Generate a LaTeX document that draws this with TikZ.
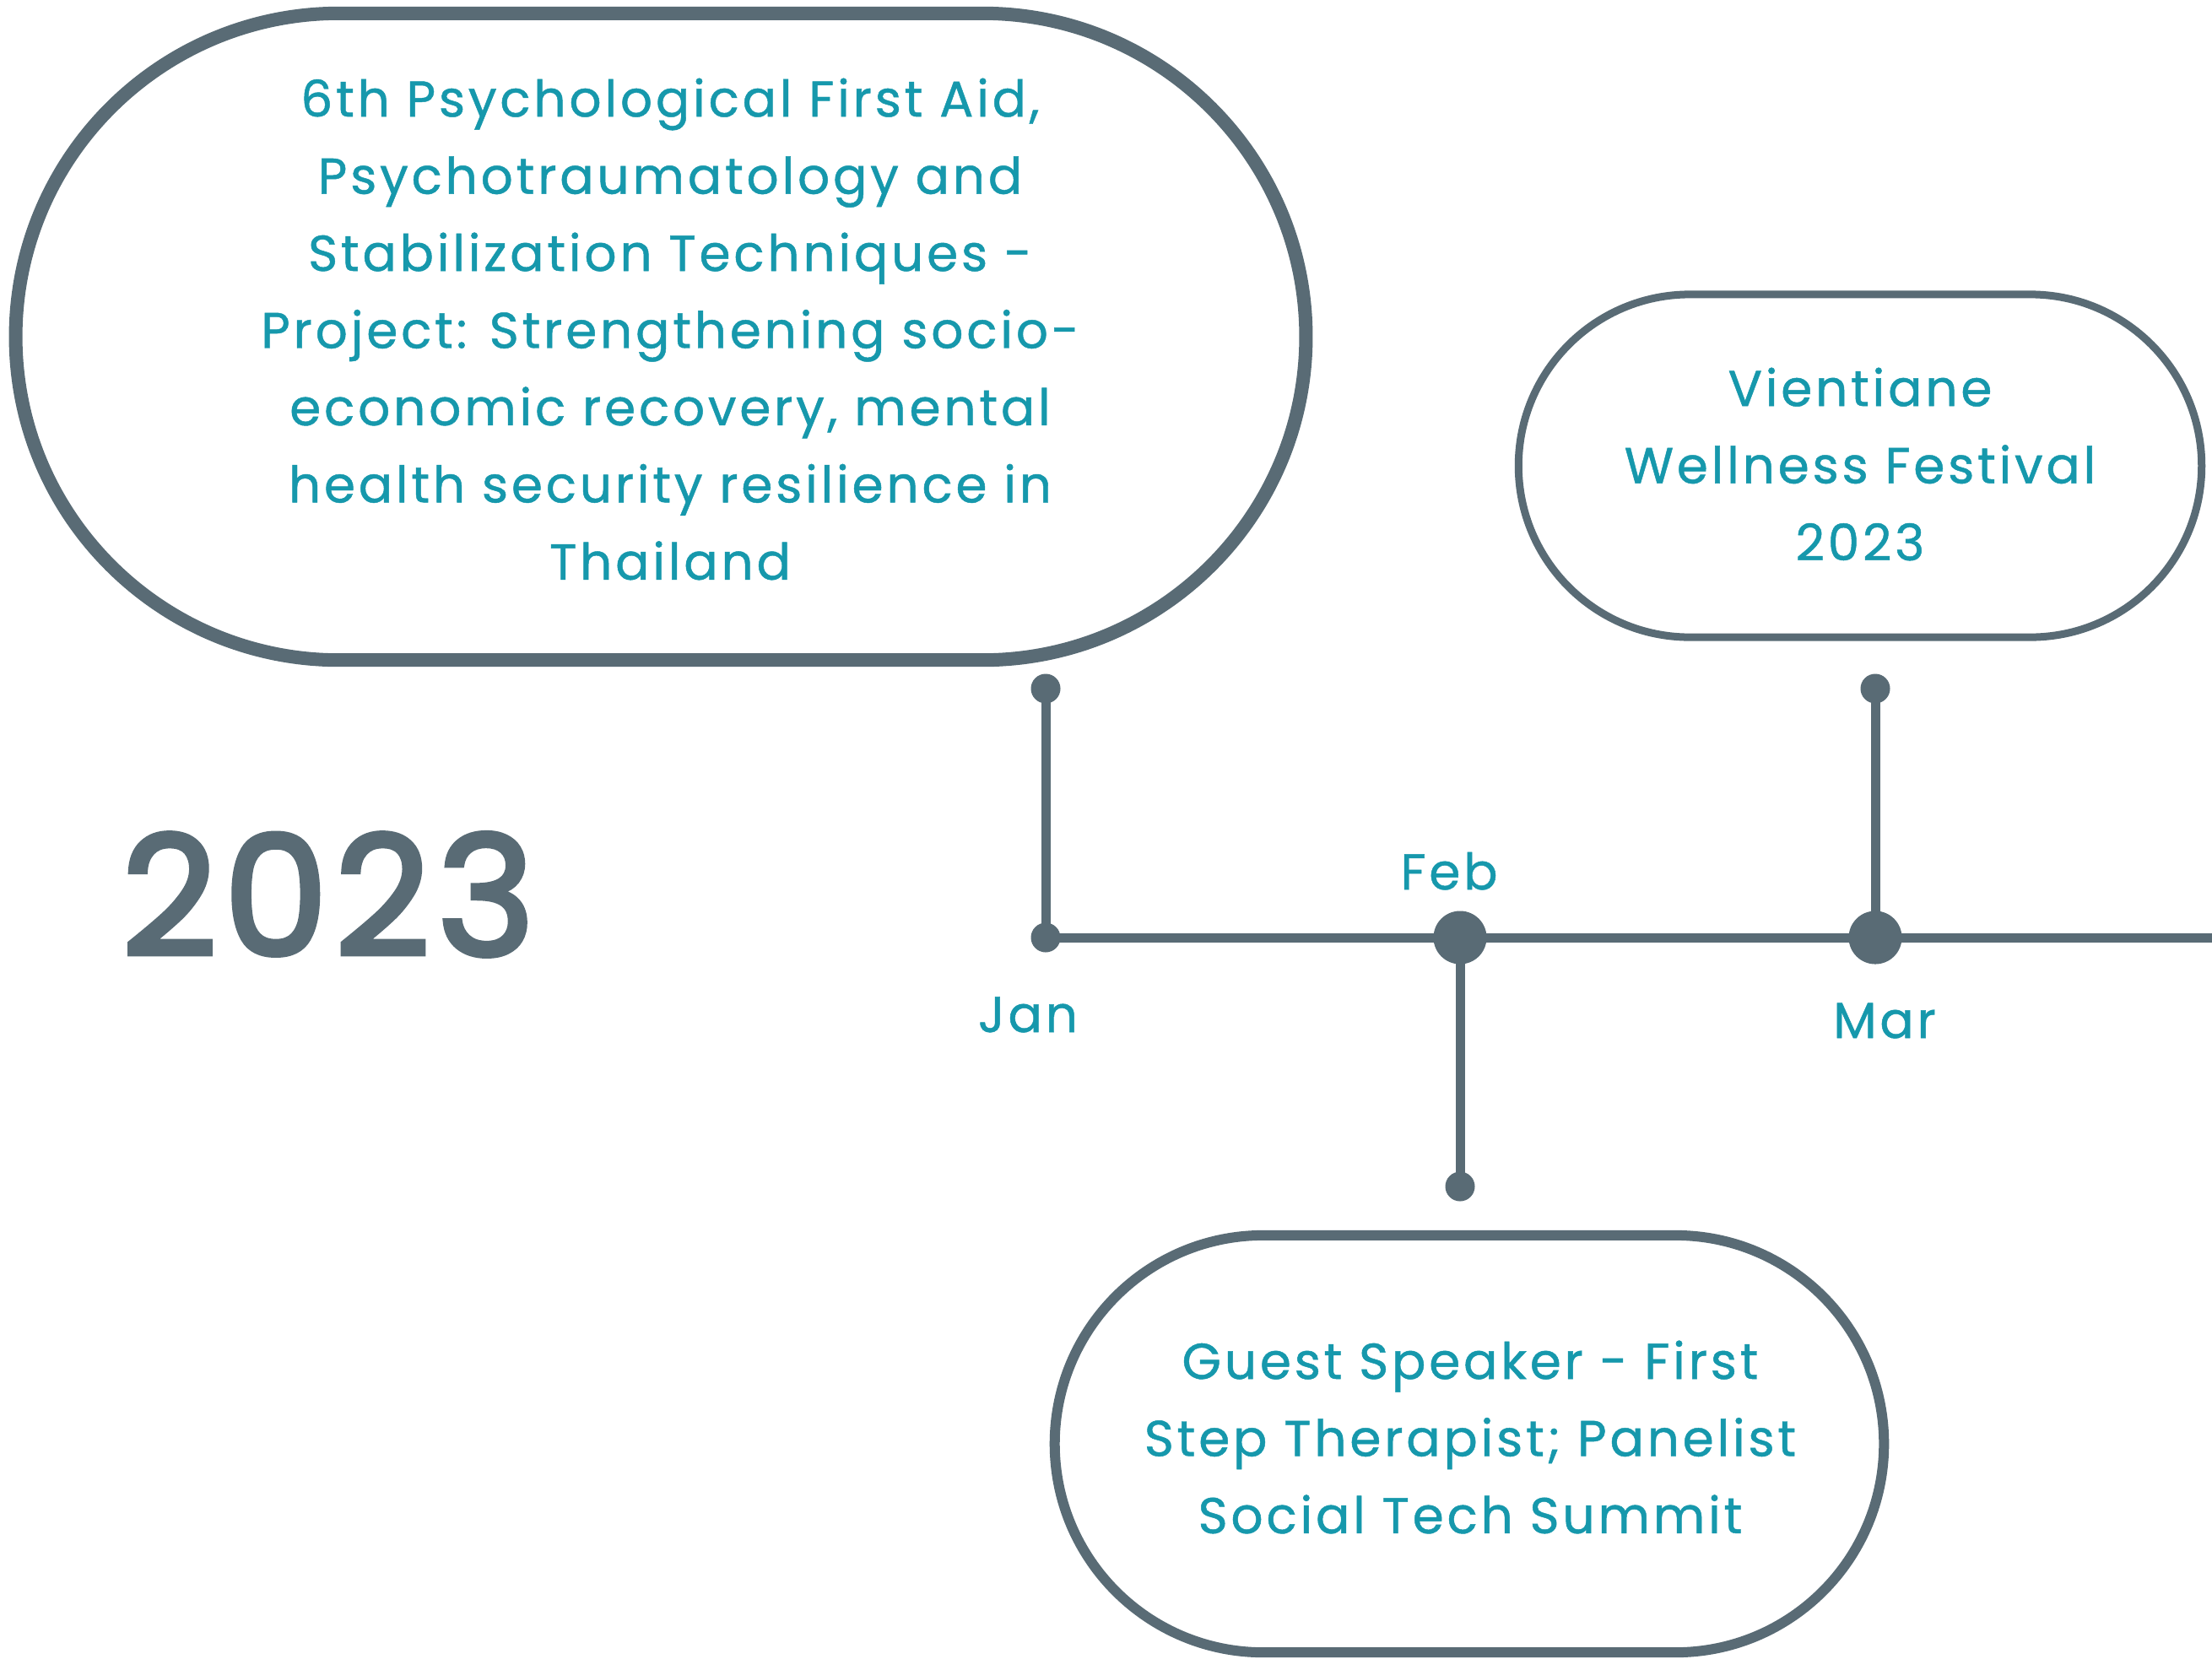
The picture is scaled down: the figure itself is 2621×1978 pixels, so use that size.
\documentclass[tikz,border=0pt]{standalone}
\usepackage{fontspec}
\setmainfont{Poppins}
\newfontfamily\evfamily[LetterSpace=6.3, FakeBold=0.8]{Poppins}
\newfontfamily\yearfamily[LetterSpace=4, FakeBold=3]{Poppins}
\definecolor{slate}{RGB}{89,107,117}
\definecolor{tealtext}{RGB}{22,152,172}
\newcommand{\evfont}{\evfamily\fontsize{17}{26}\selectfont}
\begin{document}
\begin{tikzpicture}[x=0.01cm,y=-0.01cm,
  evbox/.style={draw=slate, fill=white, inner sep=0pt},
  evtext/.style={text=tealtext, font=\evfont, align=center, inner sep=0pt},
  monthlbl/.style={text=tealtext, font=\evfont, anchor=base, inner sep=0pt},
  smalldot/.style={circle, fill=slate, minimum size=0.35cm, inner sep=0pt},
  bigdot/.style={circle, fill=slate, minimum size=0.63cm, inner sep=0pt},
  tline/.style={draw=slate, line width=1.1mm}]
\useasboundingbox (0,0) rectangle (2621,1978);

% event boxes
\node[evbox, line width=1.6mm, minimum width=15.28cm, minimum height=7.66cm,
      rounded corners=3.83cm] (boxA) at (783,399) {};
\node[evbox, line width=0.9mm, minimum width=8.09cm, minimum height=4.06cm,
      rounded corners=2.03cm] (boxB) at (2204,552) {};
\node[evbox, line width=1.2mm, minimum width=9.82cm, minimum height=4.94cm,
      rounded corners=2.47cm] (boxC) at (1741,1711) {};

% event texts
\node[evtext] (txtA) at (794,390) {6th Psychological First Aid,\\
  Psychotraumatology and\\ Stabilization Techniques -\\
  Project: Strengthening socio-\\ economic recovery, mental\\
  health security resilience in\\ Thailand};
\node[evtext] (txtB) at (2204,550) {Vientiane\\ Wellness Festival\\ 2023};
\node[evtext] (txtC) at (1742,1703) {Guest Speaker - First\\
  Step Therapist; Panelist\\ Social Tech Summit};

% year
\node[text=slate, font=\yearfamily\fontsize{56}{70}\selectfont, anchor=base,
      inner sep=0pt] (year) at (389,1132) {2023};

% timeline points
\node[smalldot] (janTop) at (1239,816) {};
\node[smalldot] (janPt) at (1239,1111) {};
\node[bigdot] (febPt) at (1730,1111) {};
\node[smalldot] (febBot) at (1730,1406) {};
\node[bigdot] (marPt) at (2222,1111) {};
\node[smalldot] (marTop) at (2222,816) {};
\coordinate (tlEnd) at (2640,1111);

% connectors
\draw[tline] (janPt.center) -- (tlEnd);
\draw[tline] (janTop.center) -- (janPt.center);
\draw[tline] (febPt.center) -- (febBot.center);
\draw[tline] (marTop.center) -- (marPt.center);

% month labels
\node[monthlbl] (jan) at (1218,1223) {Jan};
\node[monthlbl] (feb) at (1717,1054) {Feb};
\node[monthlbl] (mar) at (2233,1230) {Mar};
\end{tikzpicture}
\end{document}
